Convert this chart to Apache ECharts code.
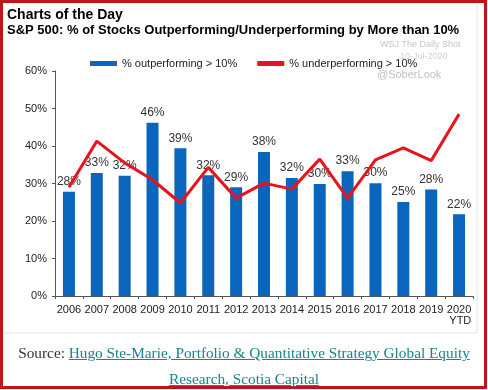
<!DOCTYPE html>
<html><head><meta charset="utf-8">
<script src="https://cdn.jsdelivr.net/npm/echarts@6/dist/echarts.min.js"></script>
<style>
html,body{margin:0;padding:0;background:#fff;}
#wrap{position:relative;width:488px;height:390px;overflow:hidden;}
#chart{position:absolute;left:0;top:0;width:488px;height:390px;}
#src{position:absolute;left:0;top:340px;width:488px;text-align:center;font-family:"Liberation Serif",serif;font-size:15.3px;line-height:26px;color:#333;white-space:nowrap;}
#src a{color:#17858a;text-decoration:underline;}
</style></head>
<body><div id="wrap"><div id="chart"></div>
<div id="src">Source: <a>Hugo Ste-Marie, Portfolio &amp; Quantitative Strategy Global Equity</a><br><a>Research, Scotia Capital</a></div></div>
<script>
var categories = ['2006','2007','2008','2009','2010','2011','2012','2013','2014','2015','2016','2017','2018','2019','2020\nYTD'];
var outperforming = [27.8, 32.8, 32.1, 46.2, 39.4, 32.2, 29.0, 38.4, 31.5, 29.9, 33.3, 30.1, 25.1, 28.4, 21.8];
var underperforming = [29.0, 41.3, 35.5, 31.0, 24.8, 34.3, 26.1, 30.1, 28.5, 36.5, 26.1, 36.3, 39.5, 36.1, 48.5];
var yTicks = [0, 10, 20, 30, 40, 50, 60];

var chart = echarts.init(document.getElementById('chart'));
chart.setOption({
  animation: false,
  backgroundColor: '#fff',
  textStyle: {fontFamily: 'Liberation Sans, Arial, sans-serif'},
  title: [
    {text: 'Charts of the Day', left: 2, top: 3, textStyle: {fontSize: 14, fontWeight: 'bold', color: '#000'}},
    {text: 'S&P 500: % of Stocks Outperforming/Underperforming by More than 10%', left: 2, top: 19, textStyle: {fontSize: 13, fontWeight: 'bold', color: '#000'}}
  ],
  graphic: [
    {type: 'text', left: 383, top: 26, style: {text: 'Posted on', fill: '#d8d8d8', font: '8px Liberation Sans'}, z: 0},
    {type: 'text', left: 380, top: 40, style: {text: 'WSJ The Daily Shot', fill: '#c4c4c4', font: '9px Liberation Sans'}},
    {type: 'text', left: 400, top: 52, style: {text: '10-Jul-2020', fill: '#d0d0d0', font: '9px Liberation Sans'}, z: 0},
    {type: 'text', left: 377, top: 69, style: {text: '@SoberLook', fill: '#c0c0c0', font: '11px Liberation Sans'}},
    {type: 'line', shape: {x1: 4, y1: 333, x2: 478, y2: 333}, style: {stroke: '#e4e4e4', lineWidth: 1}},
    {type: 'line', shape: {x1: 477, y1: 3, x2: 477, y2: 333}, style: {stroke: '#e4e4e4', lineWidth: 1}},
    {type: 'rect', shape: {x: 1.5, y: 1.5, width: 484, height: 386}, style: {fill: 'none', stroke: '#c0141c', lineWidth: 3}}
  ],
  legend: {
    left: 85, top: 53, itemWidth: 27, itemHeight: 5, itemGap: 20,
    textStyle: {fontSize: 11, color: '#222'},
    data: [
      {name: '% outperforming > 10%', icon: 'rect'},
      {name: '% underperforming > 10%', icon: 'rect'}
    ]
  },
  grid: {left: 55, right: 15, top: 71, bottom: 94},
  xAxis: {
    type: 'category', data: categories,
    axisLine: {lineStyle: {color: '#555'}},
    axisTick: {show: true, lineStyle: {color: '#555'}, length: 3},
    axisLabel: {fontSize: 11, color: '#222', interval: 0, margin: 8, align: 'center',
      formatter: function (v) { return v.indexOf('\n') >= 0 ? '{a|2020}\n{b|YTD}' : v; },
      rich: {a: {fontSize: 11, color: '#222', align: 'right'}, b: {fontSize: 11, color: '#222', align: 'right'}}
    }
  },
  yAxis: {
    type: 'value', min: 0, max: 60, interval: 10,
    axisLine: {show: true, lineStyle: {color: '#555'}},
    axisTick: {show: true, lineStyle: {color: '#555'}, length: 3},
    splitLine: {show: false},
    axisLabel: {fontSize: 11, color: '#222', margin: 8, formatter: function (v) { return yTicks.indexOf(v) >= 0 ? v + '%' : ''; }}
  },
  series: [
    {
      name: '% outperforming > 10%', type: 'bar', data: outperforming, barWidth: 12,
      itemStyle: {color: '#0a66bd'},
      label: {show: true, position: 'top', distance: 4, fontSize: 12, color: '#333', formatter: function (p) { return Math.round(p.value) + '%'; }}
    },
    {
      name: '% underperforming > 10%', type: 'line', data: underperforming,
      symbol: 'none', lineStyle: {color: '#e8141c', width: 3}, itemStyle: {color: '#e8141c'}, z: 3
    }
  ]
});
</script></body></html>
